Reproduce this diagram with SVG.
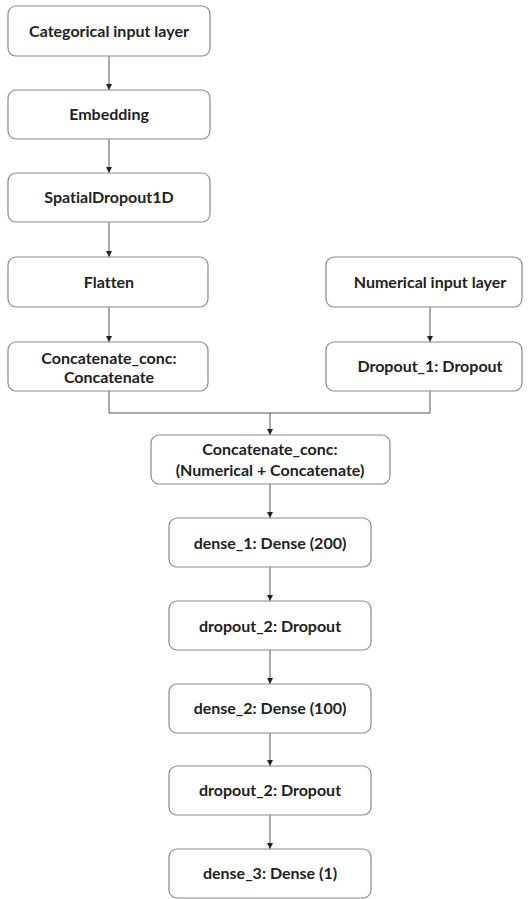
<svg xmlns="http://www.w3.org/2000/svg" width="528" height="899" viewBox="0 0 528 899">
<style>
.box{fill:#fff;stroke:#8a8a8a;stroke-width:1.2}
.t{font-family:Lato,"Open Sans","Liberation Sans",sans-serif;font-weight:bold;font-size:16px;fill:#222;text-anchor:middle;font-variant-ligatures:none}
.c{fill:none;stroke:#555;stroke-width:1}
</style>
<defs>
<marker id="ah" viewBox="0 0 8 8" refX="8" refY="4" markerWidth="6" markerHeight="6" orient="auto">
<path d="M0,0 L8,4 L0,8 z" fill="#222"/>
</marker>
</defs>
<rect width="528" height="899" fill="#fff"/>
<g id="connectors">
<line class="c" x1="109" y1="56" x2="109" y2="90" marker-end="url(#ah)"/>
<line class="c" x1="109" y1="139" x2="109" y2="173" marker-end="url(#ah)"/>
<line class="c" x1="109" y1="222" x2="109" y2="257" marker-end="url(#ah)"/>
<line class="c" x1="109" y1="307" x2="109" y2="342" marker-end="url(#ah)"/>
<line class="c" x1="430" y1="307" x2="430" y2="342" marker-end="url(#ah)"/>
<polyline class="c" points="109,391 109,413 430,413 430,391"/>
<line class="c" x1="270" y1="413" x2="270" y2="435" marker-end="url(#ah)"/>
<line class="c" x1="270" y1="484" x2="270" y2="518" marker-end="url(#ah)"/>
<line class="c" x1="270" y1="567" x2="270" y2="601" marker-end="url(#ah)"/>
<line class="c" x1="270" y1="650" x2="270" y2="684" marker-end="url(#ah)"/>
<line class="c" x1="270" y1="733" x2="270" y2="766" marker-end="url(#ah)"/>
<line class="c" x1="270" y1="815" x2="270" y2="849" marker-end="url(#ah)"/>
</g>
<g id="n1"><rect class="box" x="8" y="6" width="202" height="50" rx="8"/><text class="t" x="109" y="37">Categorical input layer</text></g>
<g id="n2"><rect class="box" x="8" y="90" width="202" height="49" rx="8"/><text class="t" x="109" y="120">Embedding</text></g>
<g id="n3"><rect class="box" x="8" y="173" width="202" height="49" rx="8"/><text class="t" x="109" y="203">SpatialDropout1D</text></g>
<g id="n4"><rect class="box" x="8" y="257" width="200" height="50" rx="8"/><text class="t" x="109" y="288">Flatten</text></g>
<g id="n5"><rect class="box" x="8" y="342" width="200" height="49" rx="8"/><text class="t" x="109" y="364">Concatenate_conc:</text><text class="t" x="109" y="383">Concatenate</text></g>
<g id="n6"><rect class="box" x="326" y="257" width="196" height="50" rx="8"/><text class="t" x="430" y="288">Numerical input layer</text></g>
<g id="n7"><rect class="box" x="326" y="342" width="196" height="49" rx="8"/><text class="t" x="430" y="372">Dropout_1: Dropout</text></g>
<g id="n8"><rect class="box" x="151" y="435" width="239" height="49" rx="8"/><text class="t" x="270" y="455">Concatenate_conc:</text><text class="t" x="270" y="476">(Numerical + Concatenate)</text></g>
<g id="n9"><rect class="box" x="169" y="518" width="202" height="49" rx="8"/><text class="t" x="270" y="549">dense_1: Dense (200)</text></g>
<g id="n10"><rect class="box" x="169" y="601" width="202" height="49" rx="8"/><text class="t" x="270" y="632">dropout_2: Dropout</text></g>
<g id="n11"><rect class="box" x="169" y="684" width="202" height="49" rx="8"/><text class="t" x="270" y="714">dense_2: Dense (100)</text></g>
<g id="n12"><rect class="box" x="169" y="766" width="202" height="49" rx="8"/><text class="t" x="270" y="796">dropout_2: Dropout</text></g>
<g id="n13"><rect class="box" x="169" y="849" width="202" height="49" rx="8"/><text class="t" x="270" y="879">dense_3: Dense (1)</text></g>
</svg>
